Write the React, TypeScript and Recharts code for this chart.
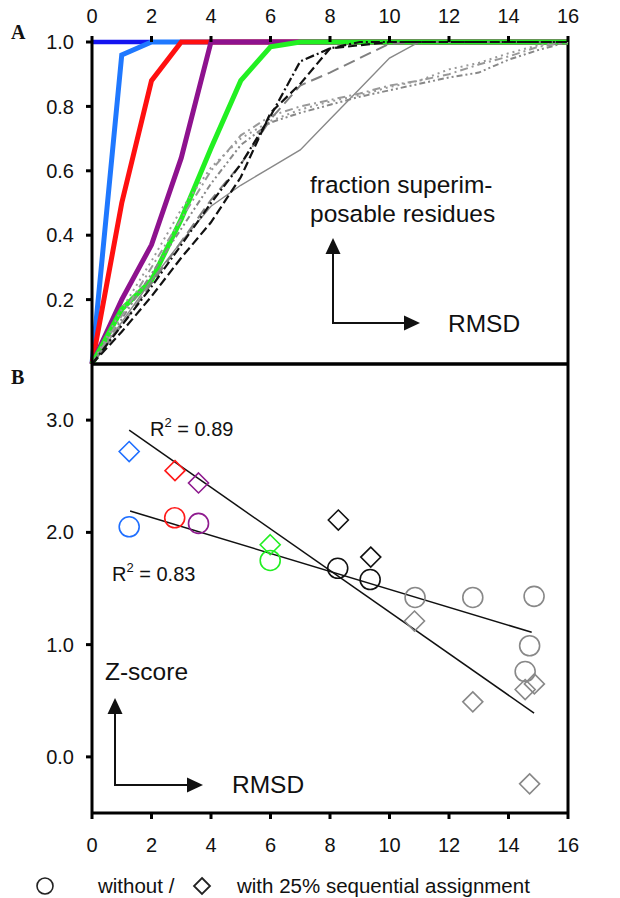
import React from 'react';
import { ComposedChart, LineChart, Line, Scatter, XAxis, YAxis, ReferenceLine } from 'recharts';

const FONT = '"Liberation Sans", Arial, Helvetica, sans-serif';
const SERIF = '"Liberation Serif", "Times New Roman", serif';

// panel A: fraction of superimposable residues vs RMSD, one curve per structure
const xTicks = [0, 2, 4, 6, 8, 10, 12, 14, 16];
const fracTicks = [0.2, 0.4, 0.6, 0.8, 1.0];
const zTicks = [0, 1, 2, 3];

const darkBlue = [[0, 1], [2, 1]];
const lightBlue = [[0, 0], [1, 0.96], [2, 1], [16, 1]];
const red = [[0, 0], [1, 0.5], [2, 0.88], [3, 1], [16, 1]];
const purple = [[0, 0], [1, 0.2], [2, 0.37], [3, 0.64], [4, 1], [16, 1]];
const green = [[0, 0], [1, 0.17], [2, 0.26], [3, 0.45], [4, 0.67], [5, 0.88], [6, 0.985], [7, 1], [16, 1]];
const blackDash = [[0, 0], [1, 0.1], [2, 0.21], [3, 0.33], [4, 0.44], [5, 0.58], [6, 0.78], [7, 0.87], [8, 0.98], [9, 0.99], [10, 1], [16, 1]];
const blackDashDot = [[0, 0], [1, 0.12], [2, 0.24], [3, 0.37], [4, 0.5], [5, 0.62], [6, 0.77], [7, 0.94], [8, 0.98], [9, 1], [16, 1]];
const grayLongDash = [[0, 0], [1, 0.12], [2, 0.25], [3, 0.38], [4, 0.51], [5, 0.62], [6, 0.76], [7, 0.865], [8, 0.905], [9, 0.95], [10, 0.995], [11, 1], [16, 1]];
const graySolid = [[0, 0], [1, 0.13], [2, 0.26], [3, 0.38], [4, 0.49], [5, 0.555], [6, 0.61], [7, 0.665], [8, 0.76], [9, 0.855], [10, 0.95], [11, 1], [16, 1]];
const grayDotted = [[0, 0], [1, 0.17], [2, 0.32], [3, 0.48], [4, 0.61], [5, 0.7], [6, 0.755], [7, 0.79], [8, 0.815], [9, 0.835], [10, 0.86], [11, 0.88], [12, 0.915], [13, 0.935], [14, 0.965], [15, 0.99], [16, 1]];
const grayDashDotDot = [[0, 0], [1, 0.14], [2, 0.28], [3, 0.42], [4, 0.56], [5, 0.68], [6, 0.75], [7, 0.78], [8, 0.805], [9, 0.83], [10, 0.85], [11, 0.87], [12, 0.89], [13, 0.905], [14, 0.945], [15, 0.975], [16, 1]];
const grayDashDot = [[0, 0], [1, 0.15], [2, 0.3], [3, 0.45], [4, 0.6], [5, 0.71], [6, 0.77], [7, 0.8], [8, 0.82], [9, 0.84], [10, 0.865], [11, 0.88], [12, 0.9], [13, 0.93], [14, 0.955], [15, 0.985], [16, 1]];

// panel B: Z-score vs RMSD
const circleX = [1.25, 2.78, 3.58, 5.99, 8.26, 9.35, 10.86, 12.8, 14.86, 14.71, 14.56];
const circleY = [2.05, 2.13, 2.08, 1.75, 1.68, 1.58, 1.42, 1.42, 1.43, 0.99, 0.76];
const diamondX = [1.25, 2.79, 3.58, 5.99, 8.28, 9.37, 10.84, 12.8, 14.56, 14.87, 14.71];
const diamondY = [2.72, 2.55, 2.44, 1.89, 2.11, 1.78, 1.21, 0.49, 0.6, 0.65, -0.24];
const pointColors = ['#1f6fff', '#ff1a1a', '#8e1a8e', '#22ee22', '#111111', '#111111', '#888888', '#888888', '#888888', '#888888', '#888888'];
const fitDiamond = [[1.25, 2.91], [14.86, 0.39]];
const fitCircle = [[1.28, 2.19], [14.78, 1.11]];

const pts = (a: number[][]) => a.map(([x, y]) => ({ x, y }));
const marks = (xs: number[], ys: number[]) => xs.map((x, i) => ({ x, y: ys[i], c: pointColors[i] }));

const curves = [
  { d: darkBlue, c: '#1414f0', w: 4.5, dash: undefined },
  { d: lightBlue, c: '#1f78ff', w: 5, dash: undefined },
  { d: red, c: '#ff1010', w: 5, dash: undefined },
  { d: purple, c: '#8e128e', w: 5, dash: undefined },
  { d: green, c: '#22f022', w: 5, dash: undefined },
  { d: graySolid, c: '#888888', w: 1.4, dash: undefined },
  { d: grayDotted, c: '#999999', w: 2, dash: '2 4' },
  { d: grayDashDotDot, c: '#888888', w: 2, dash: '6 3 2 3 2 3' },
  { d: grayDashDot, c: '#999999', w: 2, dash: '8 4 2 4' },
  { d: grayLongDash, c: '#808080', w: 2, dash: '12 6' },
  { d: blackDashDot, c: '#111111', w: 2.2, dash: '9 3 2 3' },
  { d: blackDash, c: '#111111', w: 2.2, dash: '9 4' },
];

const axisLine = { stroke: '#000', strokeWidth: 3 };
const tickStyle = { fontSize: 20, fill: '#111', fontFamily: FONT };

const Circle = (p: any) => (
  <circle cx={p.cx} cy={p.cy} r={10} fill="none" stroke={p.payload.c} strokeWidth={1.6} />
);
const Diamond = (p: any) => (
  <path
    d={`M${p.cx},${p.cy - 10} L${p.cx + 10},${p.cy} L${p.cx},${p.cy + 10} L${p.cx - 10},${p.cy} Z`}
    fill="none"
    stroke={p.payload.c}
    strokeWidth={1.6}
  />
);

function Overlay() {
  const t = { fontFamily: FONT, fill: '#111' };
  return (
    <svg width={620} height={898} style={{ position: 'absolute', left: 0, top: 0, pointerEvents: 'none' }}>
      <text x={11} y={39} fontFamily={SERIF} fontWeight="bold" fontSize={20} fill="#111">A</text>
      <text x={11} y={384} fontFamily={SERIF} fontWeight="bold" fontSize={20} fill="#111">B</text>

      <text x={310} y={193} fontSize={24.5} {...t}>fraction superim-</text>
      <text x={310} y={222} fontSize={24.5} {...t}>posable residues</text>
      <line x1={333} y1={324} x2={333} y2={252} stroke="#111" strokeWidth={2} />
      <polygon points="333,238 325.5,254 340.5,254" fill="#111" />
      <line x1={332} y1={323} x2={406} y2={323} stroke="#111" strokeWidth={2} />
      <polygon points="420,323 404,315.5 404,330.5" fill="#111" />
      <text x={448} y={332} fontSize={24.5} {...t}>RMSD</text>

      <text x={150} y={436} fontSize={20} {...t}>R<tspan fontSize={13} dy={-9}>2</tspan><tspan dy={9}> = 0.89</tspan></text>
      <text x={112} y={581} fontSize={20} {...t}>R<tspan fontSize={13} dy={-9}>2</tspan><tspan dy={9}> = 0.83</tspan></text>
      <text x={105} y={680} fontSize={24.5} {...t}>Z-score</text>
      <line x1={115} y1={786} x2={115} y2={712} stroke="#111" strokeWidth={2} />
      <polygon points="115,698 107.5,714 122.5,714" fill="#111" />
      <line x1={114} y1={785} x2={189} y2={785} stroke="#111" strokeWidth={2} />
      <polygon points="203,785 187,777.5 187,792.5" fill="#111" />
      <text x={232} y={793} fontSize={24.5} {...t}>RMSD</text>

      <circle cx={45} cy={886} r={8} fill="none" stroke="#222" strokeWidth={1.6} />
      <text x={98} y={893} fontSize={20.5} {...t}>without /</text>
      <path d="M202,878 L210,886 L202,894 L194,886 Z" fill="none" stroke="#222" strokeWidth={1.8} />
      <text x={237} y={893} fontSize={20.5} {...t}>with 25% sequential assignment</text>
    </svg>
  );
}

export default function App() {
  return (
    <div style={{ position: 'absolute', left: 0, top: 0, width: 620, height: 898, background: '#fff' }}>
      <div style={{ position: 'absolute', left: 0, top: 0 }}>
        <LineChart width={620} height={369} margin={{ top: 0, right: 52, bottom: 5, left: 0 }}>
          <XAxis
            type="number"
            dataKey="x"
            orientation="top"
            domain={[0, 16]}
            ticks={xTicks}
            height={42}
            axisLine={false}
            tickLine={axisLine}
            tickSize={6}
            tickMargin={13}
            tick={tickStyle}
            interval={0}
          />
          <YAxis
            type="number"
            dataKey="y"
            domain={[0, 1]}
            ticks={fracTicks}
            width={92}
            axisLine={axisLine}
            tickLine={axisLine}
            tickSize={6}
            tickMargin={12}
            tick={tickStyle}
            tickFormatter={(v: number) => v.toFixed(1)}
            interval={0}
          />
          <ReferenceLine y={0} stroke="#000" strokeWidth={3} />
          <ReferenceLine x={16} stroke="#000" strokeWidth={3} />
          {curves.map((s, i) => (
            <Line
              key={i}
              data={pts(s.d)}
              dataKey="y"
              type="linear"
              stroke={s.c}
              strokeWidth={s.w}
              strokeDasharray={s.dash}
              dot={false}
              activeDot={false}
              isAnimationActive={false}
            />
          ))}
        </LineChart>
      </div>
      <div style={{ position: 'absolute', left: 0, top: 359 }}>
        <ComposedChart width={620} height={539} margin={{ top: 5, right: 52, bottom: 0, left: 0 }}>
          <XAxis
            type="number"
            dataKey="x"
            orientation="bottom"
            domain={[0, 16]}
            ticks={xTicks}
            height={85}
            axisLine={axisLine}
            tickLine={axisLine}
            tickSize={6}
            tickMargin={19}
            tick={tickStyle}
            interval={0}
          />
          <YAxis
            type="number"
            dataKey="y"
            domain={[-0.5, 3.5]}
            ticks={zTicks}
            width={92}
            axisLine={axisLine}
            tickLine={axisLine}
            tickSize={6}
            tickMargin={12}
            tick={tickStyle}
            tickFormatter={(v: number) => v.toFixed(1)}
            interval={0}
          />
          <ReferenceLine y={3.5} stroke="#000" strokeWidth={3} />
          <ReferenceLine x={16} stroke="#000" strokeWidth={3} />
          <Line data={pts(fitDiamond)} dataKey="y" stroke="#111" strokeWidth={1.5} dot={false} activeDot={false} isAnimationActive={false} />
          <Line data={pts(fitCircle)} dataKey="y" stroke="#111" strokeWidth={1.5} dot={false} activeDot={false} isAnimationActive={false} />
          <Scatter data={marks(circleX, circleY)} dataKey="y" shape={Circle} isAnimationActive={false} />
          <Scatter data={marks(diamondX, diamondY)} dataKey="y" shape={Diamond} isAnimationActive={false} />
        </ComposedChart>
      </div>
      <Overlay />
    </div>
  );
}
